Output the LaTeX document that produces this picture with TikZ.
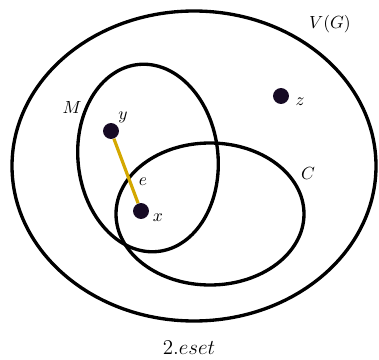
\documentclass[tikz,border=0pt]{standalone}
\usepackage{tikz}
\usepackage{xcolor}

\definecolor{vtxcol}{RGB}{22,10,36}
\definecolor{edgecol}{RGB}{212,168,0}

\tikzset{
  vtx/.style={circle,fill=vtxcol,inner sep=0pt,minimum size=16pt*0.567},
  set/.style={line width=1.9pt},
}

\begin{document}
\begin{tikzpicture}[x=0.02cm,y=0.02cm]
\useasboundingbox (0,0) rectangle (379,359);

% V(G)
\draw[set] (194,193) ellipse (182 and 155);
\node (vg) at (330,335) {$V(G)$};

% M
\draw[set,rotate around={6:(148,201)}] (148,201) ellipse (70 and 94);
\node (m) at (72,252) {$M$};

% C
\draw[set] (210,145) ellipse (94 and 71);
\node (c) at (308,186) {$C$};

% vertices
\node[vtx] (y) at (111,228) {};
\node[vtx] (x) at (141,148) {};
\node[vtx] (z) at (281,263) {};
\node at (123,242) {$y$};
\node at (158,141) {$x$};
\node at (300,257) {$z$};

% edge e
\draw[edgecol,line width=1.8pt] (y) -- (x);
\node (e) at (143,177) {$e$};

\node[font=\large] (cap) at (189,11) {$2.eset$};

\end{tikzpicture}
\end{document}
